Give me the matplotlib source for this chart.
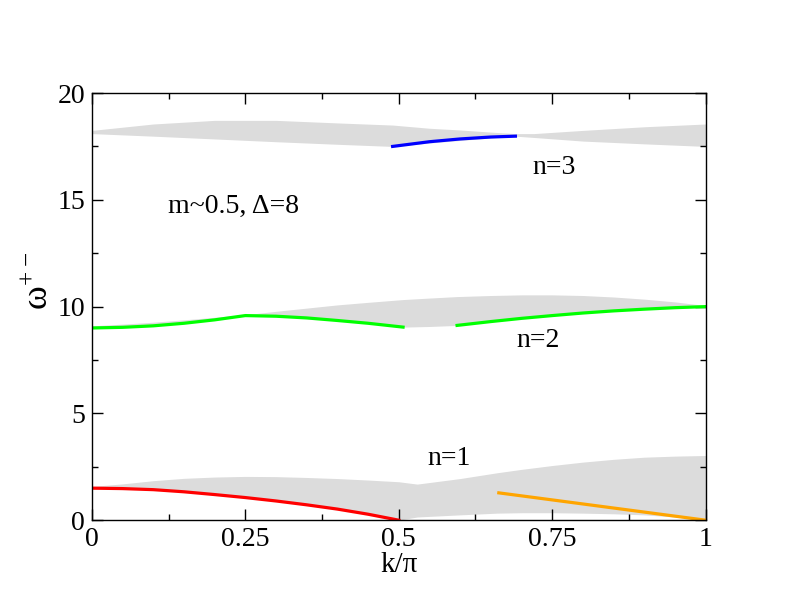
import numpy as np
import matplotlib.pyplot as plt
from matplotlib.ticker import MultipleLocator

plt.rcParams['font.family'] = ['Liberation Serif', 'DejaVu Serif']
plt.rcParams['mathtext.fontset'] = 'custom'
plt.rcParams['mathtext.rm'] = 'Liberation Serif'
plt.rcParams['mathtext.default'] = 'regular'

# band n=3
k3 = [0, 0.1, 0.2, 0.3, 0.4, 0.49, 0.55, 0.6, 0.65, 0.69, 0.72, 0.8, 0.9, 1.0]
lo3 = [18.1, 17.98, 17.85, 17.72, 17.6, 17.5, 17.66, 17.78, 17.9, 17.98, 17.92, 17.75, 17.62, 17.5]
up3 = [18.25, 18.55, 18.72, 18.72, 18.6, 18.5, 18.35, 18.27, 18.17, 18.1, 18.1, 18.25, 18.42, 18.55]
k_blue = [0.49, 0.55, 0.6, 0.65, 0.69]
w_blue = [17.5, 17.72, 17.85, 17.94, 17.98]

# band n=2
k2 = [0, 0.05, 0.1, 0.15, 0.2, 0.25, 0.3, 0.35, 0.4, 0.45, 0.507, 0.55, 0.595,
      0.65, 0.7, 0.75, 0.8, 0.85, 0.9, 0.95, 1.0]
lo2 = [9.0, 9.03, 9.1, 9.22, 9.38, 9.58, 9.55, 9.47, 9.35, 9.22, 9.04, 9.07, 9.12,
       9.3, 9.45, 9.58, 9.7, 9.8, 9.88, 9.95, 10.0]
up2 = [9.1, 9.18, 9.27, 9.38, 9.5, 9.62, 9.78, 9.93, 10.08, 10.2, 10.33, 10.4, 10.47,
       10.52, 10.55, 10.55, 10.52, 10.45, 10.35, 10.22, 10.05]
k_green_a = [0, 0.05, 0.1, 0.15, 0.2, 0.25, 0.3, 0.35, 0.4, 0.45, 0.507]
w_green_a = [9.0, 9.03, 9.1, 9.22, 9.38, 9.58, 9.55, 9.47, 9.35, 9.22, 9.04]
k_green_b = [0.595, 0.65, 0.7, 0.75, 0.8, 0.85, 0.9, 0.95, 1.0]
w_green_b = [9.12, 9.3, 9.45, 9.58, 9.7, 9.8, 9.88, 9.95, 10.0]

# band n=1
k1 = [0, 0.05, 0.1, 0.15, 0.2, 0.25, 0.3, 0.35, 0.4, 0.45, 0.5, 0.53, 0.6,
      0.66, 0.7, 0.75, 0.8, 0.85, 0.9, 0.95, 1.0]
lo1 = [1.5, 1.48, 1.43, 1.33, 1.2, 1.06, 0.9, 0.72, 0.52, 0.28, 0.0, 0.15, 0.25,
       0.33, 0.35, 0.35, 0.33, 0.3, 0.25, 0.15, 0.0]
up1 = [1.58, 1.7, 1.85, 1.96, 2.02, 2.05, 2.04, 2.0, 1.95, 1.88, 1.8, 1.69, 1.95,
       2.22, 2.38, 2.56, 2.72, 2.85, 2.95, 3.0, 3.03]
k_red = [0, 0.05, 0.1, 0.15, 0.2, 0.25, 0.3, 0.35, 0.4, 0.45, 0.5]
w_red = [1.5, 1.48, 1.43, 1.33, 1.2, 1.06, 0.9, 0.72, 0.52, 0.28, 0.0]
k_orange = [0.663, 0.75, 0.85, 0.95, 1.0]
w_orange = [1.28, 0.95, 0.57, 0.19, 0.0]

fig = plt.figure(figsize=(7.92, 6.12), dpi=100)
ax = fig.add_axes([0.116, 0.150, 0.775, 0.698])

grey = '#dcdcdc'
ax.fill_between(k3, lo3, up3, color=grey, lw=0)
ax.fill_between(k2, lo2, up2, color=grey, lw=0)
ax.fill_between(k1, lo1, up1, color=grey, lw=0)

lw = 2.3
ax.plot(k_blue, w_blue, color='#0000ff', lw=lw)
ax.plot(k_green_a, w_green_a, color='#00ff00', lw=lw)
ax.plot(k_green_b, w_green_b, color='#00ff00', lw=lw)
ax.plot(k_red, w_red, color='#ff0000', lw=lw)
ax.plot(k_orange, w_orange, color='#ffa500', lw=lw)

fs = 20
ax.text(0.718, 16.5, 'n=3', fontsize=fs, va='center', ha='left')
ax.text(0.692, 8.4, 'n=2', fontsize=fs, va='center', ha='left')
ax.text(0.546, 2.9, 'n=1', fontsize=fs, va='center', ha='left')
ax.text(0.124, 14.7, 'm~0.5, Δ=8', fontsize=fs, va='center', ha='left')

ax.set_xlim(0, 1)
ax.set_ylim(0, 20)
ax.xaxis.set_minor_locator(MultipleLocator(0.125))
ax.yaxis.set_major_locator(MultipleLocator(5))
ax.yaxis.set_minor_locator(MultipleLocator(2.5))
ax.set_xticks([0, 0.25, 0.5, 0.75, 1])
ax.set_xticklabels(['0', '0.25', '0.5', '0.75', '1'])
ax.tick_params(which='both', direction='in', top=True, right=True, labelsize=fs, width=1)
ax.tick_params(which='major', length=8, pad=5)
ax.tick_params(which='minor', length=4.5)
for s in ax.spines.values():
    s.set_linewidth(1)

ax.set_xlabel('k/π', fontsize=21, labelpad=0)
ax.set_ylabel('ω$^{+-}$', fontsize=26)
ax.yaxis.set_label_coords(-0.059, 0.56)

fig.savefig('out.png', dpi=100)
